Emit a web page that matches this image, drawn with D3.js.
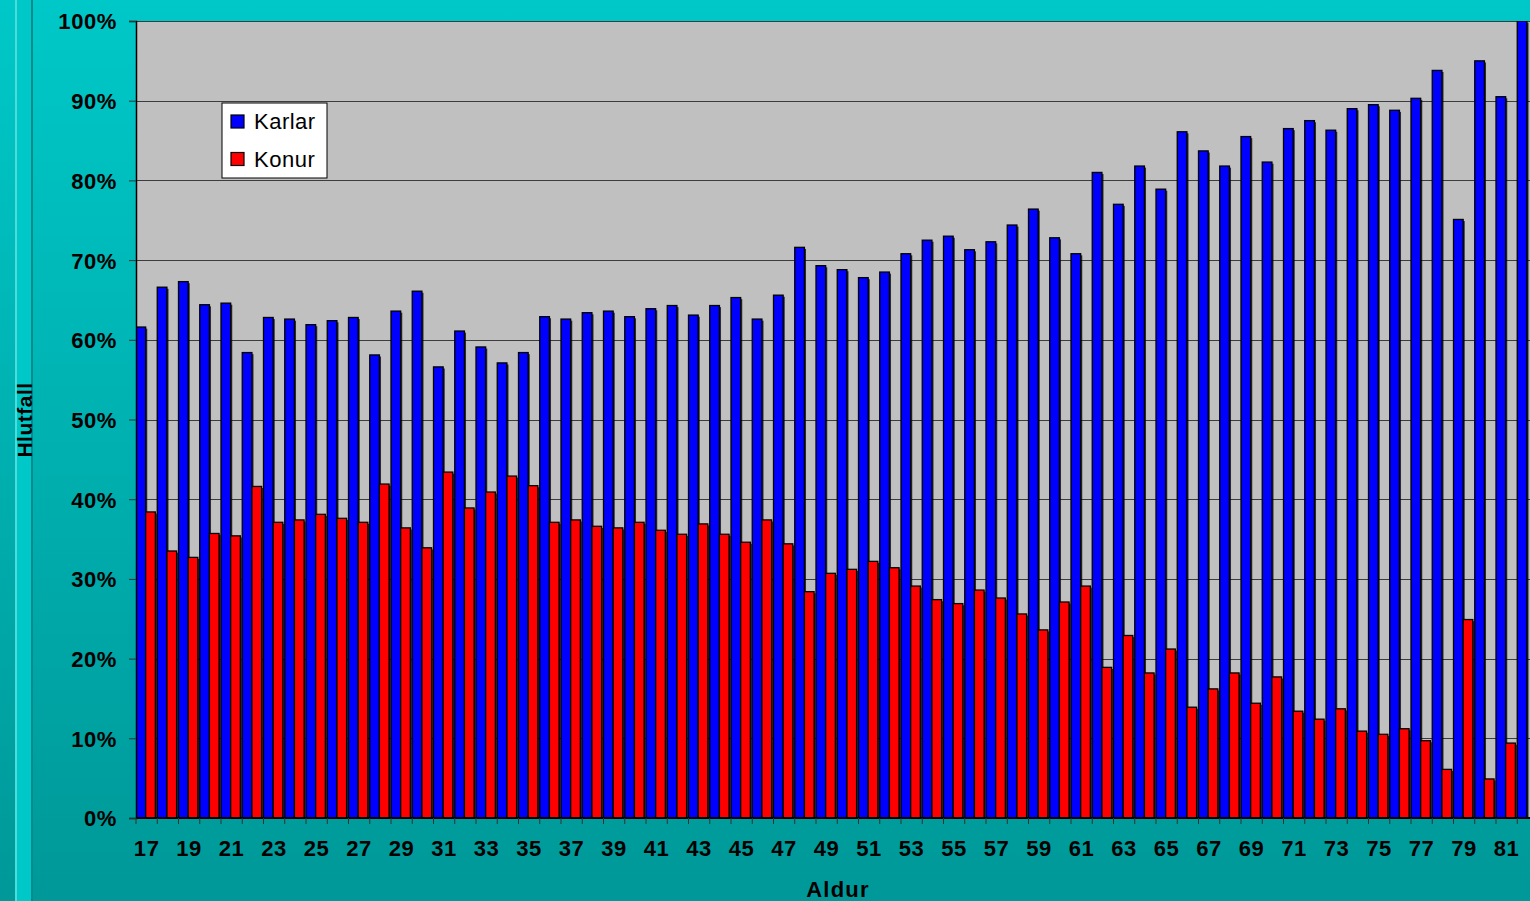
<!DOCTYPE html>
<html>
<head>
<meta charset="utf-8">
<script src="https://d3js.org/d3.v7.min.js"></script>
<style>
  body { margin: 0; overflow: hidden; }
  svg { display: block; font-family: "Liberation Sans", Arial, sans-serif; }
  .y.axis text, .x.axis text { font-weight: bold; font-size: 22px; fill: #000; letter-spacing: 0.6px; }
  .title { font-weight: bold; font-size: 22px; letter-spacing: 1.2px; }
</style>
</head>
<body>
<div id="chart"></div>
<script>
const ages = d3.range(17, 83).map(String);

const karlar = [
  61.6, 66.6, 67.3, 64.4, 64.6, 58.4, 62.8, 62.6, 61.9, 62.4,
  62.8, 58.1, 63.6, 66.1, 56.6, 61.1, 59.1, 57.1, 58.4, 62.9,
  62.6, 63.4, 63.6, 62.9, 63.9, 64.3, 63.1, 64.3, 65.3, 62.6,
  65.6, 71.6, 69.3, 68.8, 67.8, 68.5, 70.8, 72.5, 73.0, 71.3,
  72.3, 74.4, 76.4, 72.8, 70.8, 81.0, 77.0, 81.8, 78.9, 86.1,
  83.7, 81.8, 85.5, 82.3, 86.5, 87.5, 86.3, 89.0, 89.5, 88.8,
  90.3, 93.8, 75.1, 95.0, 90.5, 100
];

const konur = [
  38.4, 33.5, 32.7, 35.7, 35.4, 41.6, 37.1, 37.4, 38.1, 37.6,
  37.1, 41.9, 36.4, 33.9, 43.4, 38.9, 40.9, 42.9, 41.7, 37.1,
  37.4, 36.6, 36.4, 37.1, 36.1, 35.6, 36.9, 35.6, 34.6, 37.4,
  34.4, 28.4, 30.7, 31.2, 32.2, 31.4, 29.1, 27.4, 26.9, 28.6,
  27.6, 25.6, 23.6, 27.1, 29.1, 18.9, 22.9, 18.2, 21.2, 13.9,
  16.2, 18.2, 14.4, 17.7, 13.4, 12.4, 13.7, 10.9, 10.5, 11.2,
  9.7, 6.1, 24.9, 4.9, 9.4, 0
];

const seriesNames = ["Karlar", "Konur"];
const colors = ["#0000ff", "#ff0000"];
const yTicks = [0, 10, 20, 30, 40, 50, 60, 70, 80, 90, 100];

const W = 1530, H = 901;
const margin = { top: 21, left: 136 };
const step = 21.25;
const width = ages.length * step;
const height = 797;

const data = ages.map(function(a, i) {
  return { age: a, values: [karlar[i], konur[i]] };
});

const svg = d3.select("#chart").append("svg")
  .attr("width", W)
  .attr("height", H);

// background
const defs = svg.append("defs");
const grad = defs.append("linearGradient")
  .attr("id", "bg")
  .attr("x1", 0).attr("y1", 0).attr("x2", 0).attr("y2", 1);
grad.append("stop").attr("offset", "0%").attr("stop-color", "#00c8c8");
grad.append("stop").attr("offset", "100%").attr("stop-color", "#009898");

svg.append("rect").attr("width", W).attr("height", H).attr("fill", "url(#bg)");

// left strip
svg.append("rect").attr("x", 15).attr("y", 0).attr("width", 18).attr("height", H).attr("fill", "#00c8c8");
svg.append("rect").attr("x", 15).attr("y", 0).attr("width", 2).attr("height", H).attr("fill", "#4ddcdc");
svg.append("rect").attr("x", 31).attr("y", 0).attr("width", 2).attr("height", H).attr("fill", "#008c8c");

defs.append("clipPath").attr("id", "plotclip")
  .append("rect").attr("width", width).attr("height", height);

const g = svg.append("g")
  .attr("transform", "translate(" + margin.left + "," + margin.top + ")");

// scales
const x = d3.scaleBand().domain(ages).range([0, width]).padding(0);
const xs = d3.scaleBand().domain(seriesNames).range([0, x.bandwidth() * 0.91]);
const y = d3.scaleLinear().domain([0, 100]).range([height, 0]);

g.append("rect")
  .attr("width", width)
  .attr("height", height)
  .attr("fill", "#c0c0c0");

// gridlines
g.append("g")
  .selectAll("line")
  .data(yTicks)
  .enter()
  .append("line")
  .attr("x1", 0)
  .attr("x2", width)
  .attr("y1", function(d) { return Math.round(y(d)) + 0.5; })
  .attr("y2", function(d) { return Math.round(y(d)) + 0.5; })
  .attr("stroke", "#3c3c3c")
  .attr("stroke-width", 1);

const bars = g.append("g").attr("clip-path", "url(#plotclip)");

const groups = bars.selectAll(".age")
  .data(data)
  .enter()
  .append("g")
  .attr("class", "age")
  .attr("transform", function(d) { return "translate(" + x(d.age) + ",0)"; });

function barData(d) {
  return d.values.map(function(v, i) { return { key: seriesNames[i], value: v, i: i }; });
}

// shadows
groups.selectAll("rect.shadow")
  .data(barData)
  .enter()
  .append("rect")
  .attr("class", "shadow")
  .attr("x", function(d) { return xs(d.key) + 1.6; })
  .attr("y", function(d) { return y(d.value) + 1.6; })
  .attr("width", xs.bandwidth())
  .attr("height", function(d) { return height - y(d.value); })
  .attr("fill", "#000")
  .attr("opacity", 0.75);

groups.selectAll("rect.bar")
  .data(barData)
  .enter()
  .append("rect")
  .attr("class", "bar")
  .attr("x", function(d) { return xs(d.key); })
  .attr("y", function(d) { return y(d.value); })
  .attr("width", xs.bandwidth())
  .attr("height", function(d) { return height - y(d.value); })
  .attr("fill", function(d) { return colors[d.i]; })
  .attr("stroke", "#000")
  .attr("stroke-width", 1.3);

// y axis
const yAxis = g.append("g")
  .attr("class", "y axis")
  .call(d3.axisLeft(y).tickValues(yTicks).tickSize(7).tickPadding(12)
    .tickFormat(function(d) { return d + "%"; }));
yAxis.select(".domain").attr("stroke", "#000").attr("stroke-width", 1.5);
yAxis.selectAll(".tick line").attr("stroke", "#333");
yAxis.selectAll("text").attr("dy", "0.36em");

// x axis: ticks on category boundaries, labels on every other age
const xAxis = g.append("g")
  .attr("class", "x axis")
  .attr("transform", "translate(0," + height + ")");

xAxis.append("line")
  .attr("x1", 0).attr("x2", width)
  .attr("stroke", "#000").attr("stroke-width", 2);

xAxis.selectAll(".btick")
  .data(ages.concat(["end"]))
  .enter()
  .append("line")
  .attr("class", "btick")
  .attr("x1", function(d) { return d === "end" ? width : x(d); })
  .attr("x2", function(d) { return d === "end" ? width : x(d); })
  .attr("y1", 0)
  .attr("y2", 6)
  .attr("stroke", "#333");

xAxis.selectAll(".lbl")
  .data(ages.filter(function(d, i) { return i % 2 === 0; }))
  .enter()
  .append("text")
  .attr("class", "lbl")
  .attr("x", function(d) { return x(d) + x.bandwidth() / 2; })
  .attr("y", 38)
  .attr("text-anchor", "middle")
  .text(function(d) { return d; });

// legend
const legend = svg.append("g").attr("transform", "translate(222,103)");
legend.append("rect")
  .attr("width", 105)
  .attr("height", 75)
  .attr("fill", "#fff")
  .attr("stroke", "#000")
  .attr("stroke-width", 1);

const item = legend.selectAll(".item")
  .data(seriesNames)
  .enter()
  .append("g")
  .attr("class", "item")
  .attr("transform", function(d, i) { return "translate(0," + i * 37.5 + ")"; });

item.append("rect")
  .attr("x", 9)
  .attr("y", 12)
  .attr("width", 13)
  .attr("height", 13)
  .attr("fill", function(d, i) { return colors[i]; })
  .attr("stroke", "#000")
  .attr("stroke-width", 1.2);

item.append("text")
  .attr("x", 32)
  .attr("y", 26)
  .style("font-size", "22px")
  .style("letter-spacing", "0.5px")
  .text(function(d) { return d; });

// axis titles
svg.append("text")
  .attr("class", "title")
  .attr("x", 838)
  .attr("y", 897)
  .attr("text-anchor", "middle")
  .text("Aldur");

svg.append("text")
  .attr("class", "title")
  .attr("transform", "translate(32,420) rotate(-90)")
  .attr("text-anchor", "middle")
  .style("font-size", "21px")
  .style("letter-spacing", "0.5px")
  .text("Hlutfall");
</script>
</body>
</html>
